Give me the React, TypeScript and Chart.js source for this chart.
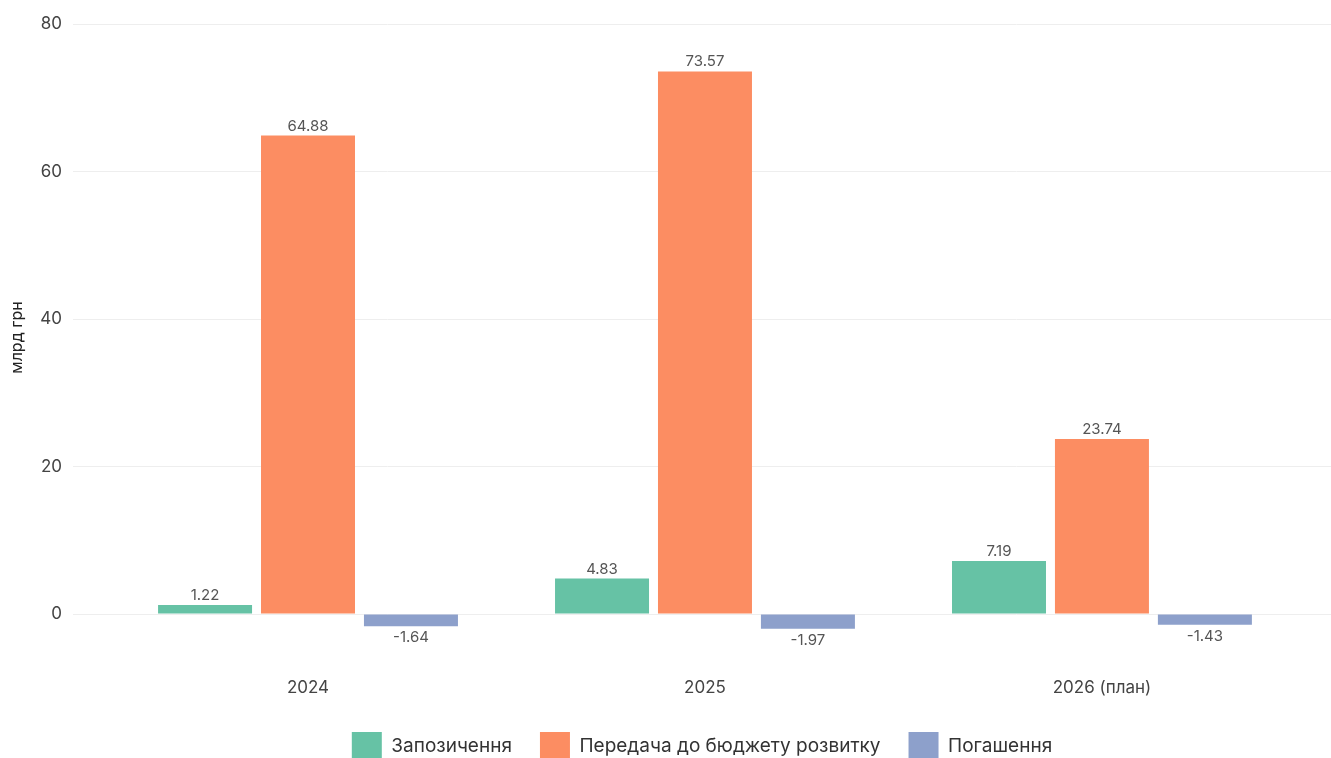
import React, { useEffect, useRef } from "react";
import { Chart, registerables } from "chart.js";

Chart.register(...registerables);

const categories = ["2024", "2025", "2026 (план)"];
const borrowing = [1.22, 4.83, 7.19];
const transfer = [64.88, 73.57, 23.74];
const repayment = [-1.64, -1.97, -1.43];
const yTicks = [0, 20, 40, 60, 80];
const seriesNames = ["Запозичення", "Передача до бюджету розвитку", "Погашення"];
const colors = ["#66c2a5", "#fc8d62", "#8da0cb"];

const FONT = "Inter, 'Noto Sans', sans-serif";

const valueLabels = {
  id: "valueLabels",
  afterDatasetsDraw(chart: any) {
    const ctx = chart.ctx;
    ctx.save();
    ctx.font = `15px ${FONT}`;
    ctx.fillStyle = "#555";
    ctx.textAlign = "center";
    chart.data.datasets.forEach((ds: any, di: number) => {
      const meta = chart.getDatasetMeta(di);
      meta.data.forEach((el: any, i: number) => {
        const v = ds.data[i].y;
        const txt = v.toFixed(2);
        if (v >= 0) {
          ctx.textBaseline = "bottom";
          ctx.fillText(txt, el.x, el.y - 2);
        } else {
          ctx.textBaseline = "top";
          ctx.fillText(txt, el.x, el.y + 4);
        }
      });
    });
    ctx.restore();
  },
};

export default function App() {
  const ref = useRef<HTMLCanvasElement>(null);
  useEffect(() => {
    if (!ref.current) return;
    const series = [borrowing, transfer, repayment];
    const chart = new Chart(ref.current, {
      type: "bar",
      data: {
        datasets: series.map((s, k) => ({
          label: seriesNames[k],
          data: s.map((v, i) => ({ x: i, y: v })),
          backgroundColor: colors[k],
          borderWidth: 0,
          categoryPercentage: 0.778,
          barPercentage: 0.913,
        })),
      },
      options: {
        animation: false,
        responsive: true,
        maintainAspectRatio: false,
        layout: { padding: { top: 24, right: 0, left: 0, bottom: -12 } },
        plugins: {
          legend: {
            position: "bottom",
            fullSize: false,
            labels: {
              boxWidth: 30,
              boxHeight: 28,
              padding: 28,
              color: "#333",
              font: { family: FONT, size: 19 },
            },
          },
          tooltip: { enabled: false },
        },
        scales: {
          x: {
            type: "linear",
            offset: false,
            min: -0.592,
            max: 2.577,
            grid: { display: false, drawTicks: false },
            border: { display: false },
            afterBuildTicks: (scale: any) => {
              scale.ticks = categories.map((_, i) => ({ value: i }));
            },
            afterFit: (scale: any) => {
              scale.height = 53;
            },
            ticks: {
              padding: 27,
              color: "#444",
              font: { family: FONT, size: 17 },
              callback: (v: any) => categories[v as number],
            },
          },
          y: {
            min: -5,
            max: 80,
            grid: { color: "#eeeeee", drawTicks: false },
            border: { display: false },
            afterBuildTicks: (scale: any) => {
              scale.ticks = yTicks.map((v) => ({ value: v }));
            },
            afterFit: (scale: any) => {
              scale.width = 73;
            },
            title: {
              display: true,
              text: "млрд грн",
              color: "#222",
              font: { family: FONT, size: 16 },
              padding: { top: 8, bottom: 0 },
            },
            ticks: {
              padding: 11,
              color: "#444",
              font: { family: FONT, size: 17 },
            },
          },
        },
      },
      plugins: [valueLabels],
    });
    return () => chart.destroy();
  }, []);
  return (
    <div style={{ position: "absolute", left: 0, top: 0, width: 1331, height: 758, background: "#fff" }}>
      <canvas ref={ref} />
    </div>
  );
}
